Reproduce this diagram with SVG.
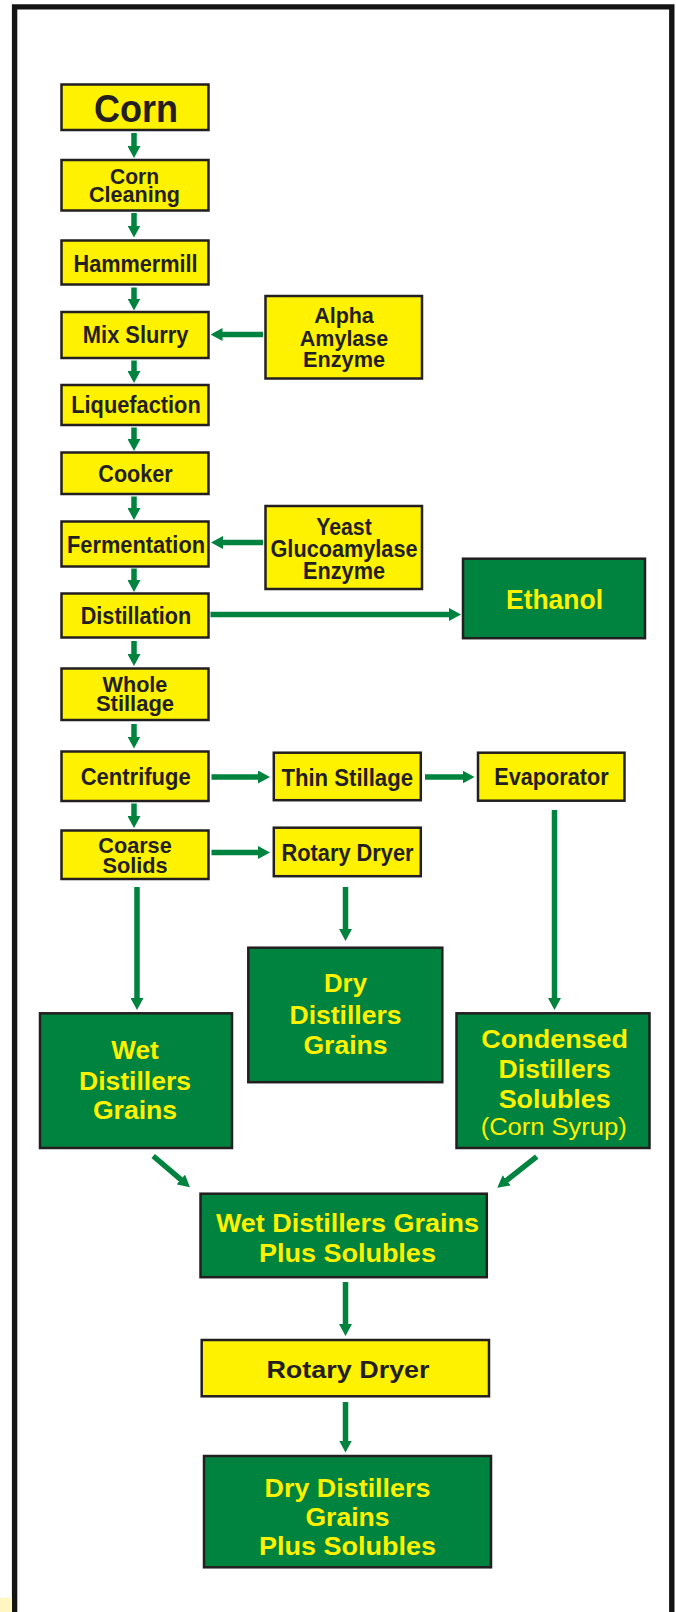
<svg xmlns="http://www.w3.org/2000/svg" width="676" height="1612" viewBox="0 0 676 1612">
<style>
.y{fill:#fff200;stroke:#231f20;stroke-width:2.5}
.g{fill:#00833e;stroke:#231f20;stroke-width:2.5}
.t{font-family:"Liberation Sans",Arial,Helvetica,sans-serif;font-weight:bold;text-anchor:middle;lengthAdjust:spacingAndGlyphs}
.d{fill:#231f20}
.l{fill:#fff200}
.c line{stroke:#00833e;stroke-width:5.5;fill:none;marker-end:url(#ah)}
</style>
<defs>
<marker id="ah" markerUnits="userSpaceOnUse" viewBox="0 -6.5 12 13" refX="0.5" refY="0" markerWidth="12" markerHeight="13" orient="auto">
<path d="M0,-6.5 L12,0 L0,6.5 z" fill="#00833e"/>
</marker>
</defs>
<rect width="676" height="1612" fill="#ffffff"/>
<path d="M14.6,1612 V6.9 H671.8 V1612" fill="none" stroke="#141414" stroke-width="5.4"/>
<rect x="0" y="1597.7" width="12" height="14.3" fill="#fff6c2"/>

<g id="connectors" class="c">
<line x1="134" y1="133" x2="134" y2="146.5"/>
<line x1="134" y1="213" x2="134" y2="226"/>
<line x1="134" y1="287.5" x2="134" y2="299"/>
<line x1="134" y1="360.5" x2="134" y2="371.5"/>
<line x1="134" y1="427.5" x2="134" y2="439.5"/>
<line x1="134" y1="496.5" x2="134" y2="508.5"/>
<line x1="134" y1="568.5" x2="134" y2="580.5"/>
<line x1="134" y1="641" x2="134" y2="654.5"/>
<line x1="134" y1="724" x2="134" y2="737"/>
<line x1="134" y1="803.5" x2="134" y2="816.5"/>
<line x1="137" y1="887" x2="137" y2="998.5"/>
<line x1="345.5" y1="887" x2="345.5" y2="929.5"/>
<line x1="554.5" y1="810" x2="554.5" y2="998.5"/>
<line x1="345.5" y1="1282" x2="345.5" y2="1324.5"/>
<line x1="345.5" y1="1402" x2="345.5" y2="1441"/>
<line x1="263" y1="334.5" x2="222" y2="334.5"/>
<line x1="263" y1="542.5" x2="222.5" y2="542.5"/>
<line x1="210.5" y1="614.5" x2="449.5" y2="614.5"/>
<line x1="211.5" y1="777" x2="258.5" y2="777"/>
<line x1="425" y1="777" x2="463" y2="777"/>
<line x1="211.5" y1="852.5" x2="258.5" y2="852.5"/>
<line x1="153.2" y1="1156" x2="181.2" y2="1179.9"/>
<line x1="536.7" y1="1156.7" x2="506.3" y2="1180.6"/>
</g>

<g id="corn"><rect class="y" x="61.5" y="84.5" width="147" height="45.5"/>
<text class="t d" x="136" y="122" font-size="38" textLength="84" lengthAdjust="spacingAndGlyphs">Corn</text></g>

<g id="corn-cleaning"><rect class="y" x="61.5" y="160" width="147" height="50.5"/>
<text class="t d" x="134.5" y="184.3" font-size="21.5" textLength="49" lengthAdjust="spacingAndGlyphs">Corn</text>
<text class="t d" x="134.5" y="201.7" font-size="21.5" textLength="91" lengthAdjust="spacingAndGlyphs">Cleaning</text></g>

<g id="hammermill"><rect class="y" x="61.5" y="240.5" width="147" height="44"/>
<text class="t d" x="135.5" y="271.5" font-size="24" textLength="124" lengthAdjust="spacingAndGlyphs">Hammermill</text></g>

<g id="mix-slurry"><rect class="y" x="61.5" y="312" width="147" height="46"/>
<text class="t d" x="135.7" y="343.3" font-size="23" textLength="105.7" lengthAdjust="spacingAndGlyphs">Mix Slurry</text></g>

<g id="alpha"><rect class="y" x="265.5" y="296" width="156.5" height="82.5"/>
<text class="t d" x="344" y="323.3" font-size="21.5" textLength="59.6" lengthAdjust="spacingAndGlyphs">Alpha</text>
<text class="t d" x="344" y="345.7" font-size="21.5" textLength="88.5" lengthAdjust="spacingAndGlyphs">Amylase</text>
<text class="t d" x="344" y="367.3" font-size="21.5" textLength="82" lengthAdjust="spacingAndGlyphs">Enzyme</text></g>

<g id="liquefaction"><rect class="y" x="61.5" y="385" width="147" height="40"/>
<text class="t d" x="136" y="413.3" font-size="23" textLength="129.5" lengthAdjust="spacingAndGlyphs">Liquefaction</text></g>

<g id="cooker"><rect class="y" x="61.5" y="452.5" width="147" height="41.5"/>
<text class="t d" x="135.5" y="481.7" font-size="23" textLength="74.3" lengthAdjust="spacingAndGlyphs">Cooker</text></g>

<g id="fermentation"><rect class="y" x="61.5" y="521.5" width="147" height="45"/>
<text class="t d" x="136" y="553.3" font-size="23" textLength="138" lengthAdjust="spacingAndGlyphs">Fermentation</text></g>

<g id="yeast"><rect class="y" x="265.5" y="506" width="156.5" height="83"/>
<text class="t d" x="344" y="535" font-size="23" textLength="55.6" lengthAdjust="spacingAndGlyphs">Yeast</text>
<text class="t d" x="344" y="556.7" font-size="23" textLength="147" lengthAdjust="spacingAndGlyphs">Glucoamylase</text>
<text class="t d" x="344" y="579" font-size="23" textLength="82" lengthAdjust="spacingAndGlyphs">Enzyme</text></g>

<g id="distillation"><rect class="y" x="61.5" y="593.5" width="147" height="44"/>
<text class="t d" x="136" y="624" font-size="23" textLength="110.5" lengthAdjust="spacingAndGlyphs">Distillation</text></g>

<g id="ethanol"><rect class="g" x="463" y="558.7" width="182" height="79.5"/>
<text class="t l" x="554.5" y="609.3" font-size="27" textLength="97" lengthAdjust="spacingAndGlyphs">Ethanol</text></g>

<g id="whole-stillage"><rect class="y" x="61.5" y="668.5" width="147" height="51.5"/>
<text class="t d" x="135" y="692" font-size="22.5" textLength="64.8" lengthAdjust="spacingAndGlyphs">Whole</text>
<text class="t d" x="135" y="711" font-size="22.5" textLength="78.2" lengthAdjust="spacingAndGlyphs">Stillage</text></g>

<g id="centrifuge"><rect class="y" x="61.5" y="751.5" width="147" height="49.5"/>
<text class="t d" x="135.7" y="785" font-size="23" textLength="110" lengthAdjust="spacingAndGlyphs">Centrifuge</text></g>

<g id="thin-stillage"><rect class="y" x="273.8" y="752.7" width="147" height="47.5"/>
<text class="t d" x="347.2" y="785.7" font-size="23" textLength="131.6" lengthAdjust="spacingAndGlyphs">Thin Stillage</text></g>

<g id="evaporator"><rect class="y" x="478" y="752.7" width="146.5" height="48"/>
<text class="t d" x="551.4" y="785" font-size="23" textLength="114.4" lengthAdjust="spacingAndGlyphs">Evaporator</text></g>

<g id="coarse-solids"><rect class="y" x="61.5" y="830.5" width="147" height="48.5"/>
<text class="t d" x="135" y="853.3" font-size="22.5" textLength="73.4" lengthAdjust="spacingAndGlyphs">Coarse</text>
<text class="t d" x="135" y="872.7" font-size="22.5" textLength="65.2" lengthAdjust="spacingAndGlyphs">Solids</text></g>

<g id="rotary-dryer-1"><rect class="y" x="273.8" y="827.7" width="147" height="48.5"/>
<text class="t d" x="347.5" y="861" font-size="23" textLength="132" lengthAdjust="spacingAndGlyphs">Rotary Dryer</text></g>

<g id="dry-distillers-grains"><rect class="g" x="248.3" y="947.7" width="194" height="134.5"/>
<text class="t l" x="345.5" y="992.3" font-size="25.5" textLength="43" lengthAdjust="spacingAndGlyphs">Dry</text>
<text class="t l" x="345.5" y="1024" font-size="25.5" textLength="112" lengthAdjust="spacingAndGlyphs">Distillers</text>
<text class="t l" x="345.5" y="1054" font-size="25.5" textLength="84" lengthAdjust="spacingAndGlyphs">Grains</text></g>

<g id="wet-distillers-grains"><rect class="g" x="40" y="1013.3" width="192" height="134.7"/>
<text class="t l" x="135" y="1059.3" font-size="26.5" textLength="47.4" lengthAdjust="spacingAndGlyphs">Wet</text>
<text class="t l" x="135" y="1090" font-size="26.5" textLength="112" lengthAdjust="spacingAndGlyphs">Distillers</text>
<text class="t l" x="135" y="1119.3" font-size="26.5" textLength="84.2" lengthAdjust="spacingAndGlyphs">Grains</text></g>

<g id="condensed-distillers-solubles"><rect class="g" x="456.5" y="1013.3" width="193" height="134.7"/>
<text class="t l" x="554.7" y="1048.3" font-size="26.5" textLength="146.7" lengthAdjust="spacingAndGlyphs">Condensed</text>
<text class="t l" x="554.7" y="1078.3" font-size="26.5" textLength="112.2" lengthAdjust="spacingAndGlyphs">Distillers</text>
<text class="t l" x="554.7" y="1108.3" font-size="26.5" textLength="112" lengthAdjust="spacingAndGlyphs">Solubles</text>
<text class="t l" x="553.7" y="1135" font-size="23" font-weight="normal" style="font-weight:normal" textLength="146" lengthAdjust="spacingAndGlyphs">(Corn Syrup)</text></g>

<g id="wdgs"><rect class="g" x="200.5" y="1193.7" width="286.3" height="83.5"/>
<text class="t l" x="347.4" y="1231.7" font-size="26.5" textLength="263" lengthAdjust="spacingAndGlyphs">Wet Distillers Grains</text>
<text class="t l" x="347.4" y="1261.7" font-size="26.5" textLength="177" lengthAdjust="spacingAndGlyphs">Plus Solubles</text></g>

<g id="rotary-dryer-2"><rect class="y" x="201.7" y="1340" width="287.3" height="56.3"/>
<text class="t d" x="348" y="1378.3" font-size="24.5" textLength="163.2" lengthAdjust="spacingAndGlyphs">Rotary Dryer</text></g>

<g id="ddgs"><rect class="g" x="204" y="1456" width="287" height="111.3"/>
<text class="t l" x="347.5" y="1496.7" font-size="26" textLength="165.8" lengthAdjust="spacingAndGlyphs">Dry Distillers</text>
<text class="t l" x="347.5" y="1525.7" font-size="26" textLength="84" lengthAdjust="spacingAndGlyphs">Grains</text>
<text class="t l" x="347.5" y="1555" font-size="26" textLength="177" lengthAdjust="spacingAndGlyphs">Plus Solubles</text></g>
</svg>
